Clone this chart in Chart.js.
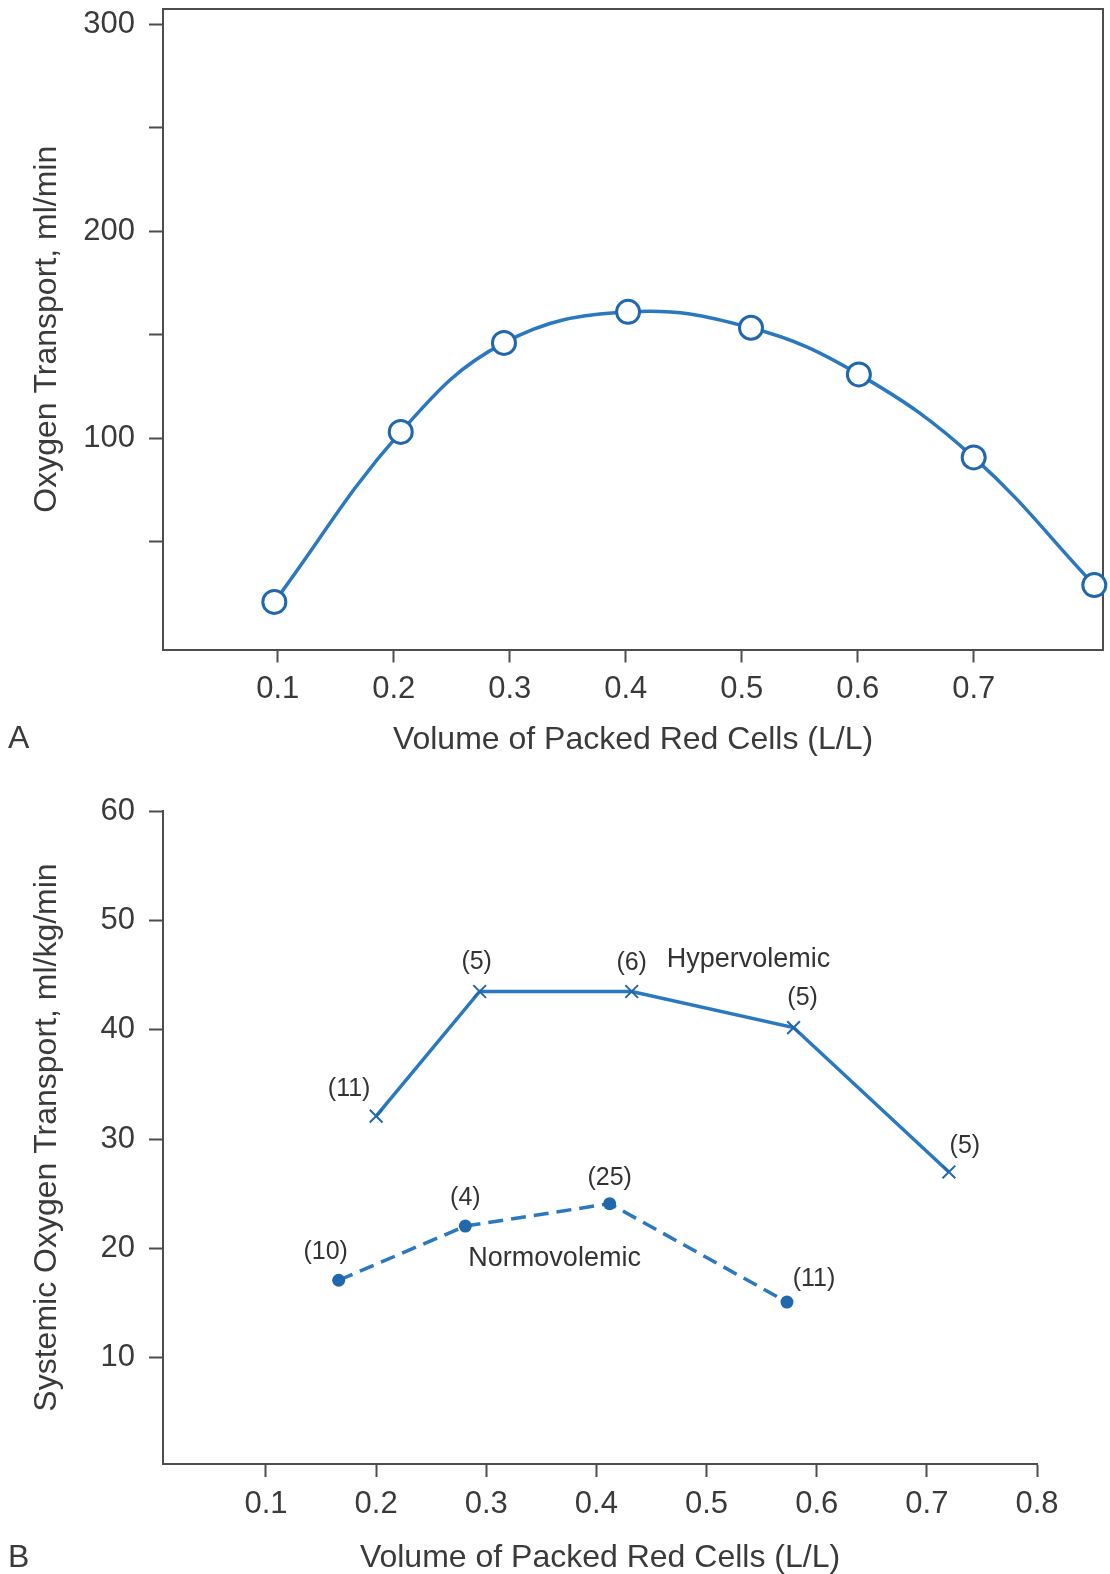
<!DOCTYPE html>
<html>
<head>
<meta charset="utf-8">
<script src="https://cdn.jsdelivr.net/npm/chart.js@4/dist/chart.umd.min.js"></script>
<style>
  body { margin: 0; background: #fff; }
  canvas { display: block; }
</style>
</head>
<body>
<canvas id="chartA" width="1110" height="790"></canvas>
<canvas id="chartB" width="1110" height="784"></canvas>
<script>
// Panel A: oxygen transport vs packed cell volume
const hctA = [0.097, 0.206, 0.295, 0.402, 0.508, 0.601, 0.700, 0.804];
const o2A = [20.9, 103.0, 146.0, 161.0, 153.3, 130.8, 90.7, 29.0];
const xTicksA = [0.1, 0.2, 0.3, 0.4, 0.5, 0.6, 0.7];
const yTicksA = [50, 100, 150, 200, 250, 300];

// Panel B: systemic oxygen transport, two groups
const hctHyper = [0.200, 0.294, 0.432, 0.579, 0.720];
const o2Hyper = [32.1, 43.5, 43.5, 40.2, 27.0];
const nHyper = ["(11)", "(5)", "(6)", "(5)", "(5)"];
const hctNormo = [0.166, 0.281, 0.412, 0.573];
const o2Normo = [17.1, 22.05, 24.1, 15.1];
const nNormo = ["(10)", "(4)", "(25)", "(11)"];
const xTicksB = [0.1, 0.2, 0.3, 0.4, 0.5, 0.6, 0.7, 0.8];
const yTicksB = [10, 20, 30, 40, 50, 60];

const FONT = '"Liberation Sans", Arial, Helvetica, sans-serif';
const BLUE = "#2a78bf";
const MARK = "#2167ac";
const AXIS = "#4d4d4d";
const TEXT = "#3a3a3a";

Chart.defaults.font.family = FONT;
Chart.defaults.color = TEXT;

const toXY = (xs, ys) => xs.map((x, i) => ({ x, y: ys[i] }));

// label offsets (px) relative to each point
const offHyper = [[-27, -27], [-3, -29], [0, -28], [9, -29], [16, -26]];
const offNormo = [[-13, -28], [0, -28], [0, -26], [27, -23]];

function fixedTicks(list) {
  return scale => { scale.ticks = list.map(v => ({ value: v })); };
}

function yAxis(min, max, ticks, title, labelFn) {
  return {
    type: "linear", min, max,
    afterBuildTicks: fixedTicks(ticks),
    afterFit: s => { s.width = 163; s.paddingTop = 0; s.paddingBottom = 0; },
    grid: { drawOnChartArea: false, drawTicks: true, tickLength: 14, tickWidth: 2, tickColor: AXIS },
    border: { display: true, color: AXIS, width: 2 },
    ticks: { padding: 14, font: { size: 31 }, color: TEXT, callback: labelFn },
    title: { display: true, text: title, font: { size: 32 }, color: TEXT, padding: { top: 28, bottom: 0 } }
  };
}

function xAxis(min, max, ticks, height, tickPad, titlePad) {
  return {
    type: "linear", min, max,
    afterBuildTicks: fixedTicks(ticks),
    afterFit: s => { s.height = height; s.paddingLeft = 0; s.paddingRight = 0; },
    grid: { drawOnChartArea: false, drawTicks: true, tickLength: 13, tickWidth: 2, tickColor: AXIS },
    border: { display: true, color: AXIS, width: 2 },
    ticks: { padding: tickPad, maxRotation: 0, autoSkip: false, font: { size: 31 }, color: TEXT, callback: v => v.toFixed(1) },
    title: { display: true, text: "Volume of Packed Red Cells (L/L)", font: { size: 32 }, color: TEXT, padding: { top: 0, bottom: titlePad } }
  };
}

const panelLetter = {
  id: "panelLetter",
  afterDraw(chart, args, opts) {
    const ctx = chart.ctx;
    ctx.save();
    ctx.font = "32px " + FONT;
    ctx.fillStyle = TEXT;
    ctx.textAlign = "left";
    ctx.textBaseline = "middle";
    ctx.fillText(opts.text, 8, opts.y);
    ctx.restore();
  }
};

const topRightFrame = {
  id: "topRightFrame",
  beforeDatasetsDraw(chart) {
    const { ctx, chartArea: a } = chart;
    ctx.save();
    ctx.strokeStyle = AXIS;
    ctx.lineWidth = 2;
    ctx.beginPath();
    ctx.moveTo(a.left, a.top);
    ctx.lineTo(a.right, a.top);
    ctx.lineTo(a.right, a.bottom);
    ctx.stroke();
    ctx.restore();
  }
};

const countLabels = {
  id: "countLabels",
  afterDatasetsDraw(chart) {
    const ctx = chart.ctx;
    ctx.save();
    ctx.fillStyle = "#333";
    ctx.textBaseline = "middle";
    chart.data.datasets.forEach((ds, di) => {
      const pts = chart.getDatasetMeta(di).data;
      ctx.font = "25px " + FONT;
      ctx.textAlign = "center";
      ds.counts.forEach((txt, i) => {
        const [dx, dy] = ds.countOffsets[i];
        ctx.fillText(txt, pts[i].x + dx, pts[i].y + dy);
      });
      const p = pts[ds.nameAt];
      ctx.font = "27px " + FONT;
      ctx.textAlign = "left";
      ctx.fillText(ds.label, p.x + ds.nameOffset[0], p.y + ds.nameOffset[1]);
    });
    ctx.restore();
  }
};

new Chart(document.getElementById("chartA"), {
  type: "line",
  data: {
    datasets: [{
      data: toXY(hctA, o2A),
      borderColor: BLUE,
      borderWidth: 3.5,
      tension: 0.4,
      clip: false,
      pointRadius: 11.5,
      pointBorderWidth: 3,
      pointBorderColor: MARK,
      pointBackgroundColor: "#fff"
    }]
  },
  options: {
    responsive: false,
    animation: false,
    layout: { autoPadding: false, padding: { left: 0, right: 7, top: 9, bottom: 0 } },
    plugins: {
      legend: { display: false },
      tooltip: { enabled: false },
      panelLetter: { text: "A", y: 739 }
    },
    scales: {
      x: xAxis(0.001, 0.8115, xTicksA, 140.5, 8, 31),
      y: yAxis(-2.1, 307.3, yTicksA, "Oxygen Transport, ml/min", v => (v % 100 === 0 ? v : ""))
    }
  },
  plugins: [panelLetter, topRightFrame]
});

new Chart(document.getElementById("chartB"), {
  type: "line",
  data: {
    datasets: [{
      label: "Hypervolemic",
      data: toXY(hctHyper, o2Hyper),
      counts: nHyper,
      countOffsets: offHyper,
      nameAt: 2,
      nameOffset: [35, -32],
      borderColor: BLUE,
      borderWidth: 3.5,
      tension: 0,
      pointStyle: "crossRot",
      pointRadius: 9,
      pointBorderWidth: 2,
      pointBorderColor: MARK
    }, {
      label: "Normovolemic",
      data: toXY(hctNormo, o2Normo),
      counts: nNormo,
      countOffsets: offNormo,
      nameAt: 1,
      nameOffset: [3, 32],
      borderColor: BLUE,
      borderWidth: 3.5,
      borderDash: [15, 8],
      tension: 0,
      pointStyle: "circle",
      pointRadius: 6.5,
      pointBorderWidth: 0,
      pointBackgroundColor: MARK
    }]
  },
  options: {
    responsive: false,
    animation: false,
    layout: { autoPadding: false, padding: { left: 0, right: 73, top: 21, bottom: 0 } },
    plugins: {
      legend: { display: false },
      tooltip: { enabled: false },
      panelLetter: { text: "B", y: 768 }
    },
    scales: {
      x: xAxis(0.0065, 0.8, xTicksB, 110, 9, -3.5),
      y: yAxis(0.3, 60, yTicksB, "Systemic Oxygen Transport, ml/kg/min", v => v)
    }
  },
  plugins: [panelLetter, countLabels]
});
</script>
</body>
</html>
